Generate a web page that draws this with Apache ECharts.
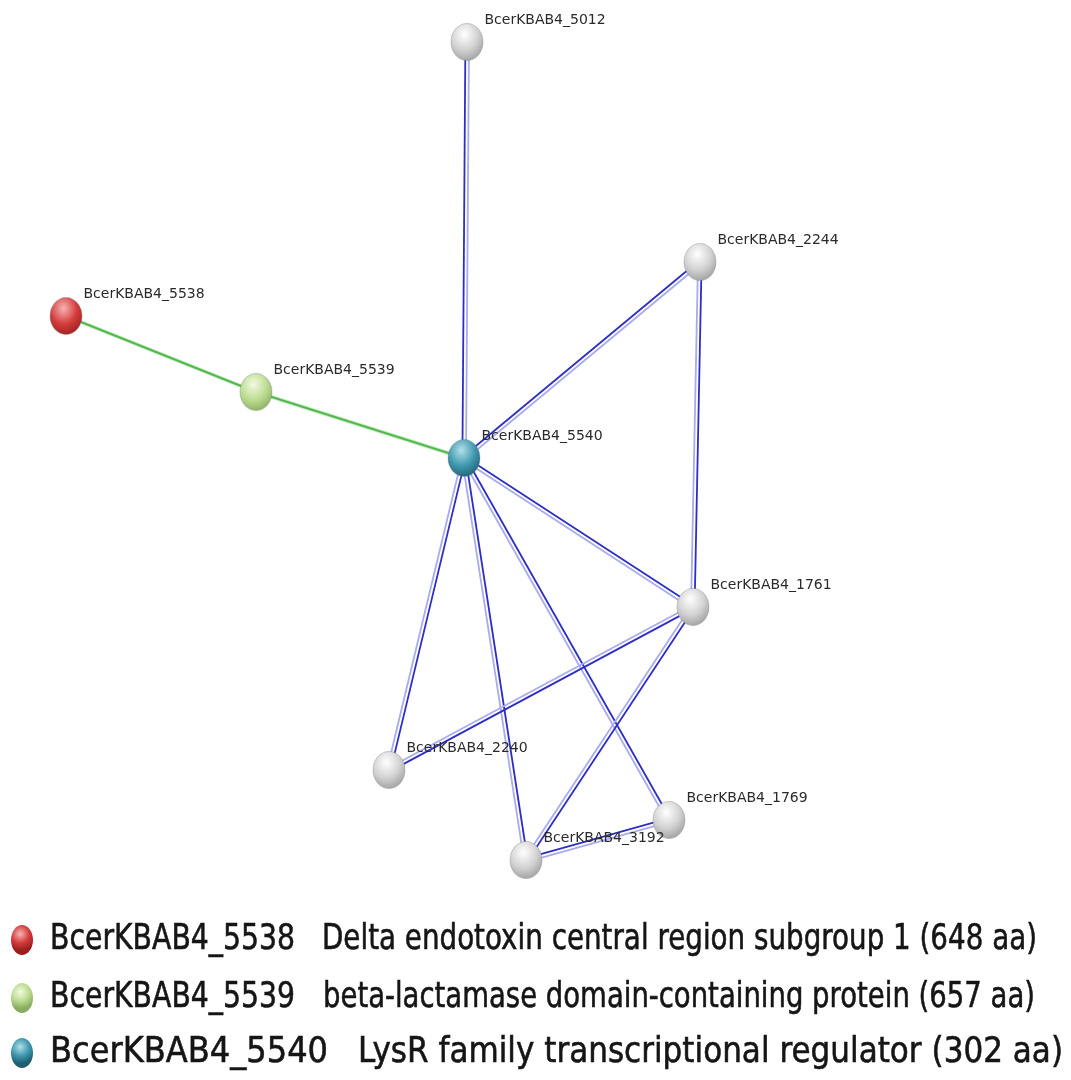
<!DOCTYPE html>
<html>
<head>
<meta charset="utf-8">
<title>Protein network</title>
<script src="https://cdn.jsdelivr.net/npm/echarts@6/dist/echarts.min.js"></script>
<style>
  html, body { margin: 0; padding: 0; background: #fff; }
  #chart { width: 1071px; height: 1080px; }
</style>
</head>
<body>
<div id="chart"></div>
<script>
// node names and their positions (picture pixels, y down)
var NODE_NAMES = ['BcerKBAB4_5012', 'BcerKBAB4_2244', 'BcerKBAB4_5538', 'BcerKBAB4_5539', 'BcerKBAB4_5540',
  'BcerKBAB4_1761', 'BcerKBAB4_2240', 'BcerKBAB4_1769', 'BcerKBAB4_3192'];
var NODE_X = [467, 700, 66, 256, 464, 693, 389, 669, 526];
var NODE_Y = [42, 262, 316, 392, 458, 607, 770, 820, 860];
var NODE_KIND = ['other', 'other', 'red', 'green', 'teal', 'other', 'other', 'other', 'other'];

// edges: [source, target, kind]
var EDGES = [
  ['BcerKBAB4_5538', 'BcerKBAB4_5539', 'green'],
  ['BcerKBAB4_5539', 'BcerKBAB4_5540', 'green'],
  ['BcerKBAB4_5540', 'BcerKBAB4_5012', 'blue'],
  ['BcerKBAB4_5540', 'BcerKBAB4_2244', 'blue'],
  ['BcerKBAB4_5540', 'BcerKBAB4_1761', 'blue'],
  ['BcerKBAB4_5540', 'BcerKBAB4_2240', 'blue'],
  ['BcerKBAB4_5540', 'BcerKBAB4_3192', 'blue'],
  ['BcerKBAB4_5540', 'BcerKBAB4_1769', 'blue'],
  ['BcerKBAB4_2244', 'BcerKBAB4_1761', 'blue'],
  ['BcerKBAB4_1761', 'BcerKBAB4_2240', 'blue'],
  ['BcerKBAB4_1761', 'BcerKBAB4_3192', 'blue'],
  ['BcerKBAB4_3192', 'BcerKBAB4_1769', 'blue']
];

// legend rows
var LEGEND_IDS = ['BcerKBAB4_5538', 'BcerKBAB4_5539', 'BcerKBAB4_5540'];
var LEGEND_DESC = ['Delta endotoxin central region subgroup 1 (648 aa)',
  'beta-lactamase domain-containing protein (657 aa)',
  'LysR family transcriptional regulator (302 aa)'];
var LEGEND_KIND = ['red', 'green', 'teal'];

// horizontal extents of the legend texts: [idStart, idEnd, descStart, descEnd]
var LEGEND_SPAN = [[50, 295, 322, 1037], [50, 295, 323, 1035], [50, 328, 358, 1063]];
var LEGEND_ROW_Y = [940, 998, 1053];
var LEGEND_FONT = '35px "DejaVu Sans"';

var SPHERE = {
  red: ['#f6b4b4', '#d43c3c', '#9a1e1e'],
  green: ['#f2fae0', '#bcdc92', '#88ad5e'],
  teal: ['#b2e0ea', '#3f98ae', '#1f5f72'],
  other: ['#ffffff', '#d2d2d2', '#9c9c9c']
};

function sphere(kind) {
  var c = SPHERE[kind];
  return new echarts.graphic.RadialGradient(0.42, 0.3, 0.75, [
    { offset: 0, color: c[0] },
    { offset: 0.55, color: c[1] },
    { offset: 1, color: c[2] }
  ]);
}

function nodeIndex(name) { return NODE_NAMES.indexOf(name); }

var edgeData = EDGES.map(function (e) {
  var a = nodeIndex(e[0]), b = nodeIndex(e[1]);
  return [NODE_X[a], NODE_Y[a], NODE_X[b], NODE_Y[b]];
});

var nodeData = NODE_NAMES.map(function (n, i) {
  return { name: n, value: [NODE_X[i], NODE_Y[i]], itemStyle: { color: sphere(NODE_KIND[i]) } };
});

function renderEdge(params, api) {
  var p1 = api.coord([api.value(0), api.value(1)]);
  var p2 = api.coord([api.value(2), api.value(3)]);
  var dx = p2[0] - p1[0], dy = p2[1] - p1[1];
  var len = Math.sqrt(dx * dx + dy * dy) || 1;
  var nx = -dy / len, ny = dx / len;
  function seg(off, stroke, w) {
    return {
      type: 'line',
      shape: { x1: p1[0] + nx * off, y1: p1[1] + ny * off, x2: p2[0] + nx * off, y2: p2[1] + ny * off },
      style: { stroke: stroke, lineWidth: w }
    };
  }
  if (EDGES[params.dataIndex][2] === 'green') {
    return { type: 'group', children: [seg(0, '#cdeec8', 4), seg(0, '#52b84f', 2)] };
  }
  return { type: 'group', children: [seg(2, '#a9abee', 1.8), seg(-1.6, '#2e2ec4', 1.8)] };
}

var measureCtx = document.createElement('canvas').getContext('2d');
function fitScale(text, x0, x1) {
  measureCtx.font = LEGEND_FONT;
  return (x1 - x0) / measureCtx.measureText(text).width;
}

var legendGraphics = [];
LEGEND_IDS.forEach(function (id, i) {
  var cy = LEGEND_ROW_Y[i];
  var span = LEGEND_SPAN[i];
  legendGraphics.push({
    type: 'ellipse', shape: { cx: 22, cy: cy, rx: 11, ry: 15 },
    style: { fill: sphere(LEGEND_KIND[i]) }, silent: true
  });
  legendGraphics.push({
    type: 'text', x: span[0], y: cy, scaleX: fitScale(id, span[0], span[1]),
    style: { text: id, fill: '#151515', stroke: '#151515', lineWidth: 0.6, font: LEGEND_FONT, textVerticalAlign: 'middle' }
  });
  legendGraphics.push({
    type: 'text', x: span[2], y: cy, scaleX: fitScale(LEGEND_DESC[i], span[2], span[3]),
    style: { text: LEGEND_DESC[i], fill: '#151515', stroke: '#151515', lineWidth: 0.6, font: LEGEND_FONT, textVerticalAlign: 'middle' }
  });
});

var chart = echarts.init(document.getElementById('chart'), null, { renderer: 'canvas' });
chart.setOption({
  backgroundColor: '#ffffff',
  animation: false,
  grid: { left: 0, right: 0, top: 0, bottom: 0 },
  xAxis: { type: 'value', min: 0, max: 1071, show: false },
  yAxis: { type: 'value', min: 0, max: 1080, inverse: true, show: false },
  graphic: legendGraphics,
  series: [
    {
      type: 'custom', renderItem: renderEdge, data: edgeData, z: 1, silent: true
    },
    {
      type: 'scatter', z: 3,
      symbol: 'circle', symbolSize: [32, 37],
      label: {
        show: true, position: 'right', distance: 1, offset: [0, -22],
        formatter: '{b}', color: '#2a2a2a', fontFamily: 'DejaVu Sans', fontSize: 14
      },
      itemStyle: { borderColor: 'rgba(120,120,120,0.35)', borderWidth: 1, opacity: 1 },
      data: nodeData
    }
  ]
});
</script>
</body>
</html>
